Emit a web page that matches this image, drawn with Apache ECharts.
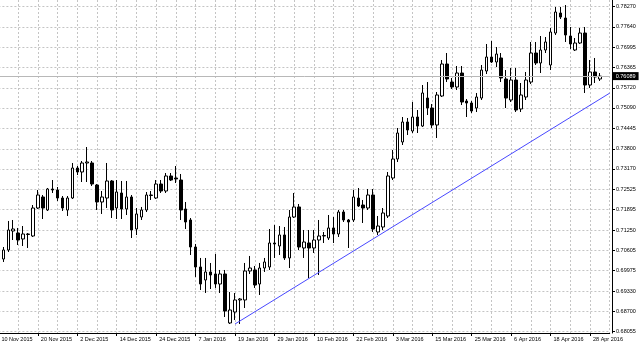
<!DOCTYPE html>
<html><head><meta charset="utf-8">
<script src="https://cdn.jsdelivr.net/npm/echarts@6/dist/echarts.min.js"></script>
<style>html,body{margin:0;padding:0;background:#fff}#c{width:640px;height:344px}</style>
</head><body><div id="c"></div>
<script>
// ---- data ----
const opens = [
0.70435,0.70340,0.70623,0.71220,0.71157,0.70969,0.71110,0.71063,0.71943,0.72289,
0.71880,0.72540,0.72509,0.72257,0.71880,0.72257,0.73200,0.73075,0.73358,0.73358,
0.72666,0.72132,0.72257,0.72792,0.71943,0.72415,0.71912,0.72289,0.71283,0.71660,
0.71880,0.72352,0.72257,0.72697,0.72477,0.72949,0.72886,0.72823,0.71912,0.71566,
0.70717,0.70089,0.69680,0.69932,0.69869,0.69554,0.69869,0.68329,0.68674,0.69052,
0.69052,0.69963,0.69995,0.69554,0.70057,0.70089,0.70843,0.70749,0.71095,0.70372,
0.71660,0.71975,0.70686,0.70843,0.70686,0.70937,0.71063,0.71000,0.71315,0.71126,
0.71817,0.71566,0.71566,0.72257,0.72037,0.71943,0.72352,0.71189,0.71346,0.71692,
0.72886,0.73483,0.74018,0.74646,0.74363,0.74803,0.74520,0.75400,0.75086,0.74552,
0.75463,0.76469,0.75903,0.75746,0.76186,0.75306,0.75243,0.75086,0.75400,0.76249,
0.76689,0.76532,0.76658,0.75998,0.75338,0.75966,0.75055,0.75432,0.75903,0.76815,
0.76501,0.76909,0.76438,0.77443,0.78072,0.77915,0.77349,0.76909,0.77129,0.77443,
0.75809,0.76218,0.75998];
const closes = [
0.70372,0.70623,0.71252,0.71283,0.70937,0.71126,0.71126,0.71943,0.72352,0.71943,
0.72540,0.72509,0.72257,0.71943,0.72257,0.73200,0.73075,0.73358,0.73389,0.72697,
0.72132,0.72289,0.72792,0.71880,0.72446,0.71912,0.72289,0.71252,0.71755,0.71880,
0.72352,0.72336,0.72697,0.72477,0.72949,0.72823,0.72855,0.71880,0.71503,0.70717,
0.70089,0.69554,0.69932,0.69837,0.69554,0.69869,0.68706,0.68737,0.69052,0.69083,
0.69963,0.70057,0.69523,0.70057,0.70246,0.70843,0.70812,0.71095,0.70372,0.71660,
0.71975,0.70717,0.70874,0.70686,0.70937,0.71063,0.71079,0.71315,0.71126,0.71817,
0.71566,0.71503,0.72289,0.72006,0.71943,0.72352,0.71283,0.71377,0.71786,0.72949,
0.73483,0.74300,0.74646,0.74395,0.74803,0.74520,0.75558,0.75086,0.74552,0.75495,
0.76469,0.75998,0.75746,0.76186,0.75275,0.75243,0.74992,0.75432,0.76280,0.76689,
0.76532,0.76783,0.76029,0.75400,0.75966,0.75023,0.75495,0.75966,0.76815,0.76501,
0.76909,0.77161,0.77475,0.78103,0.77946,0.77381,0.77098,0.77129,0.77443,0.75809,
0.76218,0.76061,0.76089];
const lows = [
0.70277,0.70246,0.70560,0.70937,0.70780,0.70749,0.70686,0.71032,0.71912,0.71597,
0.71849,0.72415,0.72163,0.71849,0.71692,0.72226,0.72980,0.72760,0.72760,0.72635,
0.71880,0.71755,0.71943,0.71629,0.71597,0.71597,0.71723,0.71000,0.71095,0.71566,
0.71817,0.72195,0.72226,0.72415,0.72415,0.72792,0.72729,0.71566,0.71283,0.70466,
0.69775,0.69366,0.69272,0.69397,0.69429,0.69272,0.68517,0.68297,0.68423,0.68297,
0.68800,0.69869,0.69429,0.69209,0.69932,0.69995,0.70372,0.70466,0.70309,0.70057,
0.71629,0.70623,0.70372,0.69743,0.70529,0.69837,0.70843,0.70937,0.70843,0.71032,
0.71503,0.70686,0.71503,0.71975,0.71472,0.71880,0.71189,0.71095,0.71252,0.71629,
0.72823,0.73389,0.73923,0.74238,0.74300,0.74300,0.74489,0.74866,0.74458,0.74143,
0.75432,0.75903,0.75683,0.75652,0.75180,0.74803,0.74929,0.74960,0.75338,0.76155,
0.76501,0.76375,0.75903,0.75086,0.75275,0.74960,0.74960,0.75338,0.75840,0.76438,
0.76186,0.76815,0.76280,0.77381,0.77883,0.77161,0.76941,0.76878,0.77098,0.75558,
0.75715,0.75872,0.75935];
const highs = [
0.70497,0.70717,0.71535,0.71566,0.71315,0.71377,0.71157,0.72037,0.72509,0.72352,
0.72572,0.72823,0.72603,0.72320,0.72320,0.73358,0.73263,0.73420,0.73860,0.73420,
0.72697,0.72477,0.73358,0.72823,0.72823,0.72792,0.72792,0.72352,0.71943,0.71975,
0.72446,0.72477,0.72823,0.72823,0.73043,0.73043,0.73263,0.73012,0.72132,0.71629,
0.70812,0.70372,0.70372,0.70215,0.70497,0.69995,0.69995,0.69303,0.69272,0.69114,
0.70215,0.70435,0.70120,0.70215,0.70372,0.71283,0.71409,0.71377,0.71346,0.71880,
0.72415,0.72069,0.71252,0.71252,0.71252,0.71566,0.71189,0.71723,0.71660,0.71880,
0.71880,0.71597,0.72509,0.72572,0.72195,0.72540,0.72540,0.71692,0.71943,0.73075,
0.73766,0.74458,0.74803,0.74772,0.75275,0.75023,0.75809,0.75903,0.75212,0.75589,
0.76595,0.76815,0.76029,0.76406,0.76406,0.75369,0.75306,0.75558,0.76438,0.77098,
0.77192,0.77003,0.76815,0.76280,0.76343,0.76343,0.75872,0.76218,0.77161,0.77161,
0.77349,0.77318,0.77601,0.78261,0.78261,0.78323,0.77632,0.77286,0.77601,0.77632,
0.76595,0.76658,0.76186];

// y-axis tick labels (as shown on the price scale)
const yTickLabels = [0.78270,0.77640,0.76995,0.76365,0.75720,0.75090,0.74445,0.73800,
  0.73170,0.72525,0.71895,0.71250,0.70605,0.69975,0.69330,0.68700,0.68055];

// trading-day categories: weekdays from 10 Nov 2015, market holidays skipped,
// plus two empty future days at the right edge
const holidays = ['2015-12-25','2016-01-01'];
const months = ['Jan','Feb','Mar','Apr','May','Jun','Jul','Aug','Sep','Oct','Nov','Dec'];
const categories = (function(){
  const out = []; const d = new Date(Date.UTC(2015,10,10));
  const total = opens.length + 2;
  while (out.length < total) {
    const wd = d.getUTCDay();
    const iso = d.toISOString().slice(0,10);
    if (wd !== 0 && wd !== 6 && holidays.indexOf(iso) < 0) {
      out.push(d.getUTCDate() + ' ' + months[d.getUTCMonth()] + ' ' + d.getUTCFullYear());
    }
    d.setUTCDate(d.getUTCDate()+1);
  }
  return out;
})();

// blue trendline (two anchor points)
const trendline = [['19 Jan 2016', 0.68297], ['4 May 2016', 0.75554]];

// ---- chart ----
const candles = opens.map((o,i)=>[o, closes[i], lows[i], highs[i]]);
const lastClose = closes[closes.length-1];
const FONT = 'Liberation Sans';
const gridDash = {color:'#c4c4c4', type:[2,2], width:1};

const chart = echarts.init(document.getElementById('c'), null, {renderer:'canvas'});
chart.setOption({
  animation:false,
  backgroundColor:'#ffffff',
  grid:{left:-1.6, right:30.3, top:0, bottom:11, containLabel:false, outerBoundsMode:'none'},
  xAxis:{
    type:'category', data:categories, boundaryGap:false,
    axisLine:{show:true, lineStyle:{color:'#000', width:1}},
    axisTick:{show:true, interval:7, length:3, lineStyle:{color:'#000'}},
    axisLabel:{interval:7, align:'left', margin:3, padding:[0,0,0,3], fontSize:5.5,
      fontFamily:FONT, color:'#000'},
    splitLine:{show:true, interval:3, lineStyle:gridDash}
  },
  yAxis:{
    type:'value', position:'right', offset:2.3, min:0.68014, max:0.78481, scale:true,
    axisLine:{show:true, lineStyle:{color:'#000', width:1}},
    axisTick:{show:true, length:3, customValues:yTickLabels, lineStyle:{color:'#000'}},
    axisLabel:{customValues:yTickLabels, formatter:(v)=>Number(v).toFixed(5), margin:4,
      fontSize:5.5, fontFamily:FONT, color:'#000'},
    splitLine:{show:true, lineStyle:gridDash}
  },
  series:[
    {
      type:'candlestick', data:candles, barWidth:3, silent:true,
      itemStyle:{color:'#ffffff', color0:'#000000', borderColor:'#000000', borderColor0:'#000000', borderWidth:1},
      markLine:{
        silent:true, symbol:['none','none'], animation:false, precision:5,
        lineStyle:{color:'#b8b8b8', type:'solid', width:1},
        label:{show:true, position:'end', distance:3, formatter:()=>lastClose.toFixed(5),
          backgroundColor:'#000', color:'#fff', padding:[1,3,1,3], fontSize:5.5, fontFamily:FONT},
        data:[{yAxis:lastClose}]
      },
      z:2
    },
    {
      type:'line', data:trendline, symbol:'none', silent:true,
      lineStyle:{color:'#4848ff', width:1}, z:3
    }
  ]
});
</script></body></html>
